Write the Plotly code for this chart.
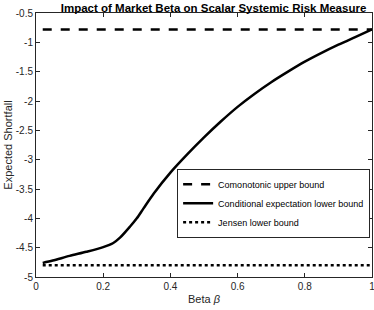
import plotly.graph_objects as go

beta = [0.02, 0.05, 0.10, 0.15, 0.20, 0.23, 0.25, 0.28, 0.30, 0.32, 0.35, 0.40,
        0.45, 0.50, 0.55, 0.60, 0.65, 0.70, 0.75, 0.80, 0.85, 0.90, 0.95, 1.00]
cond_lower = [-4.76, -4.72, -4.64, -4.57, -4.49, -4.42, -4.33, -4.14, -4.00, -3.83,
              -3.58, -3.22, -2.91, -2.62, -2.35, -2.10, -1.88, -1.68, -1.50, -1.33,
              -1.18, -1.04, -0.91, -0.78]
comonotonic_upper = [-0.78 for _ in beta]
jensen_lower = [-4.80 for _ in beta]

x_ticks = [0, 0.2, 0.4, 0.6, 0.8, 1]
x_tick_labels = ["0", "0.2", "0.4", "0.6", "0.8", "1"]
y_ticks = [-5, -4.5, -4, -3.5, -3, -2.5, -2, -1.5, -1, -0.5]
y_tick_labels = ["-5", "-4.5", "-4", "-3.5", "-3", "-2.5", "-2", "-1.5", "-1", "-0.5"]

fig = go.Figure()
fig.add_trace(go.Scatter(x=beta, y=comonotonic_upper, mode="lines",
                         name="Comonotonic upper bound",
                         line=dict(color="black", width=2.5, dash="dash")))
fig.add_trace(go.Scatter(x=beta, y=cond_lower, mode="lines",
                         name="Conditional expectation lower bound",
                         line=dict(color="black", width=2.5, shape="spline", smoothing=0.8)))
fig.add_trace(go.Scatter(x=beta, y=jensen_lower, mode="lines",
                         name="Jensen lower bound",
                         line=dict(color="black", width=2.5, dash="dot")))

axis_common = dict(showline=True, linecolor="#262626", linewidth=1, mirror="ticks",
                   ticks="inside", ticklen=4, tickcolor="#262626", showgrid=False,
                   zeroline=False, automargin=False, ticklabeloverflow="allow",
                   tickfont=dict(family="Liberation Sans, Arial", size=10, color="#262626"))

fig.update_layout(
    width=374, height=310,
    margin=dict(l=36, r=2, t=13, b=33),
    paper_bgcolor="white", plot_bgcolor="white",
    title=dict(text="<b>Impact of Market Beta on Scalar Systemic Risk Measure</b>",
               x=0.571, xanchor="center", y=0.975, yanchor="middle",
               font=dict(family="Liberation Sans, Arial", size=11.5, color="black")),
    xaxis=dict(range=[0, 1], tickvals=x_ticks, ticktext=x_tick_labels,
               title=dict(text="Beta <i>β</i>", standoff=4,
                          font=dict(family="Liberation Sans, Arial", size=11, color="#262626")),
               **axis_common),
    yaxis=dict(range=[-5, -0.5], tickvals=y_ticks, ticktext=y_tick_labels,
               title=dict(text="Expected Shortfall", standoff=0,
                          font=dict(family="Liberation Sans, Arial", size=11, color="#262626")),
               **axis_common),
    legend=dict(x=0.42, y=0.41, xanchor="left", yanchor="top",
                bgcolor="white", bordercolor="#262626", borderwidth=1,
                font=dict(family="Liberation Sans, Arial", size=9, color="black"),
                tracegroupgap=0, itemwidth=30),
    showlegend=True,
)

fig.write_html("out.html", config={"displayModeBar": False},
               post_script="document.body.style.margin='0';")
